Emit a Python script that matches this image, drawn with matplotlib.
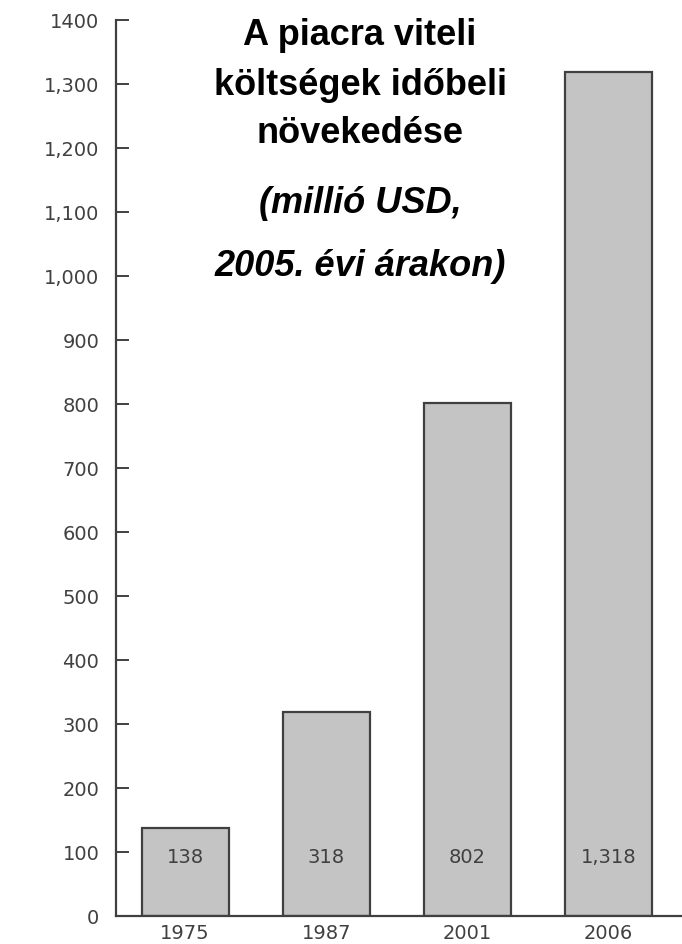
import matplotlib.pyplot as plt

plt.rcParams['font.family'] = ['DejaVu Sans']

# data
years = ['1975', '1987', '2001', '2006']
costs = [138, 318, 802, 1318]
cost_labels = ['138', '318', '802', '1,318']
yticks = [0, 100, 200, 300, 400, 500, 600, 700, 800, 900, 1000, 1100, 1200, 1300, 1400]
ytick_labels = ['0', '100', '200', '300', '400', '500', '600', '700', '800', '900',
                '1,000', '1,100', '1,200', '1,300', '1400']
title_lines = ['A piacra viteli', 'költségek időbeli', 'növekedése']
subtitle_lines = ['(millió USD,', '2005. évi árakon)']

grey = '#404040'

fig = plt.figure(figsize=(6.82, 9.44), dpi=100)
ax = fig.add_axes([116 / 682, 28 / 944, 1 - 116 / 682, (916 - 20) / 944])

x = range(len(years))
ax.bar(x, costs, width=0.617, color='#c4c4c4', edgecolor=grey, linewidth=1.6, zorder=2)

for xi, lab in zip(x, cost_labels):
    ax.text(xi, 92, lab, ha='center', va='center', fontsize=14, color=grey, zorder=3)

ax.set_xlim(-0.49, 3.52)
ax.set_ylim(0, 1400)
ax.set_yticks(yticks)
ax.set_yticklabels(ytick_labels)
ax.set_xticks(list(x))
ax.set_xticklabels(years)

ax.tick_params(axis='y', direction='in', length=9, width=1.4, color=grey,
               labelcolor=grey, labelsize=14, pad=12)
ax.tick_params(axis='x', length=0, labelcolor=grey, labelsize=14, pad=6)

for s in ['top', 'right']:
    ax.spines[s].set_visible(False)
for s in ['left', 'bottom']:
    ax.spines[s].set_color(grey)
    ax.spines[s].set_linewidth(1.6)

# title block
for line, yb in zip(title_lines, [45, 95, 143]):
    fig.text(360 / 682, 1 - yb / 944, line, ha='center', va='baseline',
             fontsize=26, fontweight='bold', family='Liberation Sans')
for line, yb in zip(subtitle_lines, [213, 276]):
    fig.text(360 / 682, 1 - yb / 944, line, ha='center', va='baseline',
             fontsize=26, fontweight='bold', fontstyle='italic', family='Liberation Sans')

fig.savefig('out.png', dpi=100)
